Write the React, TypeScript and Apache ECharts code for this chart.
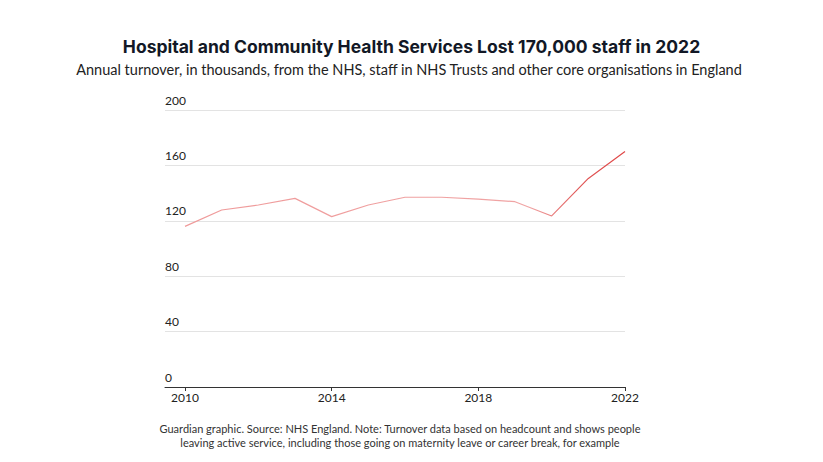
import React, { useEffect, useRef } from "react";
import * as echarts from "echarts";

const years = [2010, 2011, 2012, 2013, 2014, 2015, 2016, 2017, 2018, 2019, 2020, 2021, 2022];
const turnover = [116, 127.8, 131.4, 136.2, 123, 131.4, 137, 137, 135.7, 133.8, 123.5, 150.6, 170];
const xTickLabels = [2010, 2014, 2018, 2022];
const yTickLabels = [0, 40, 80, 120, 160, 200];

const titleText = "Hospital and Community Health Services Lost 170,000 staff in 2022";
const subtitleText = "Annual turnover, in thousands, from the NHS, staff in NHS Trusts and other core organisations in England";
const footer1 = "Guardian graphic. Source: NHS England. Note: Turnover data based on headcount and shows people";
const footer2 = "leaving active service, including those going on maternity leave or career break, for example";

export default function App() {
  const ref = useRef<HTMLDivElement>(null);
  useEffect(() => {
    if (!ref.current) return;
    const chart = echarts.init(ref.current, null, { renderer: "svg" });
    const font = "Lato, 'Open Sans', sans-serif";
    chart.setOption({
      animation: false,
      grid: { left: 165, right: 198, top: 110, bottom: 75, containLabel: false },
      xAxis: {
        type: "value",
        min: 2009.4545,
        max: 2022,
        axisLine: { show: true, lineStyle: { color: "#333", width: 1 } },
        axisTick: { show: true, customValues: xTickLabels, length: 4, lineStyle: { color: "#333" } },
        axisLabel: {
          customValues: xTickLabels,
          formatter: (v: number) => String(Math.round(v)),
          color: "#222",
          fontSize: 12,
          fontFamily: font,
          margin: 4,
        },
        splitLine: { show: false },
      },
      yAxis: {
        type: "value",
        min: 0,
        max: 200,
        interval: 40,
        axisLine: { show: false },
        axisTick: { show: false },
        axisLabel: {
          inside: true,
          customValues: yTickLabels,
          color: "#222",
          fontSize: 12,
          fontFamily: font,
          verticalAlign: "bottom",
          align: "left",
          margin: 0,
          padding: [0, 0, 4, 0],
        },
        splitLine: { show: true, lineStyle: { color: "#e3e3e3", width: 1 } },
      },
      series: [
        {
          type: "line",
          data: years.map((y, i) => [y, turnover[i]]),
          showSymbol: false,
          symbol: "none",
          lineStyle: {
            width: 1.2,
            color: new echarts.graphic.LinearGradient(0, 0, 1, 0, [
              { offset: 0, color: "#ef9a9a" },
              { offset: 0.78, color: "#f0a4a4" },
              { offset: 0.9, color: "#e05656" },
              { offset: 1, color: "#e04848" },
            ]),
          },
        },
      ],
      graphic: [
        {
          type: "text",
          x: 411.5,
          y: 46,
          style: {
            text: titleText,
            textAlign: "center",
            textVerticalAlign: "middle",
            fontSize: 17.5,
            fontWeight: "bold",
            fontFamily: "Inter, sans-serif",
            fill: "#121826",
          },
        },
        {
          type: "text",
          x: 409,
          y: 69,
          style: {
            text: subtitleText,
            textAlign: "center",
            textVerticalAlign: "middle",
            fontSize: 14.5,
            fontFamily: font,
            fill: "#222",
          },
        },
        {
          type: "text",
          x: 400,
          y: 428,
          style: {
            text: footer1,
            textAlign: "center",
            textVerticalAlign: "middle",
            fontSize: 11,
            fontFamily: font,
            fill: "#333",
          },
        },
        {
          type: "text",
          x: 400,
          y: 442,
          style: {
            text: footer2,
            textAlign: "center",
            textVerticalAlign: "middle",
            fontSize: 11,
            fontFamily: font,
            fill: "#333",
          },
        },
      ],
    });
    return () => chart.dispose();
  }, []);
  return <div ref={ref} style={{ width: 823, height: 462, position: "absolute", left: 0, top: 0 }} />;
}
